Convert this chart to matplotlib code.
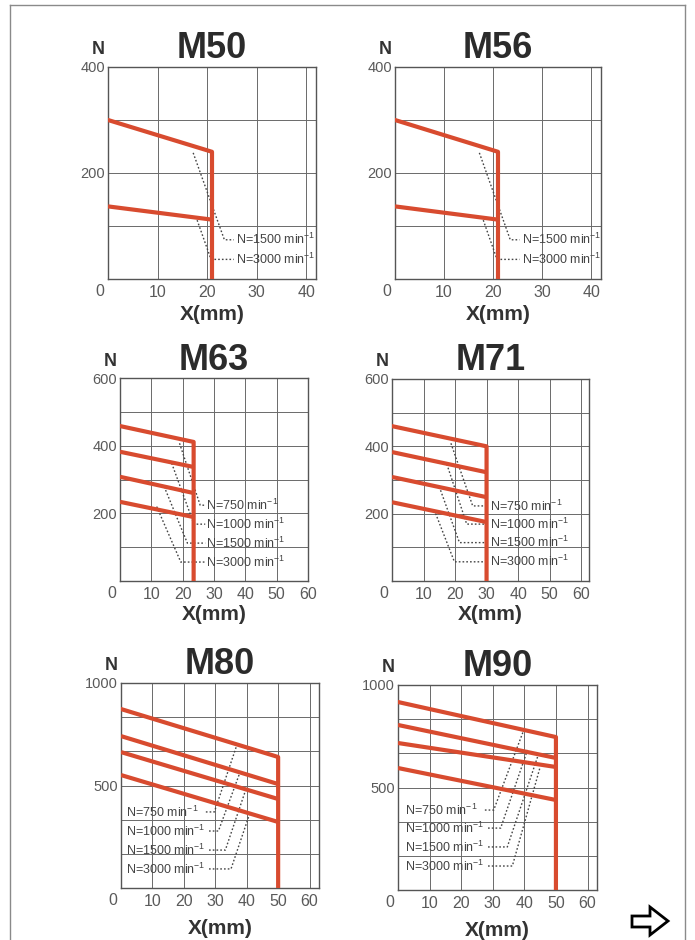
import numpy as np
import matplotlib
matplotlib.use("Agg")
import matplotlib.pyplot as plt
from matplotlib.lines import Line2D
from matplotlib.patches import Polygon
from matplotlib.transforms import IdentityTransform

# -----------------------------
# Data
# -----------------------------
titles = ["M50", "M56", "M63", "M71", "M80", "M90"]
x_max = [42, 42, 60, 62.5, 63, 63]
y_max = [400, 400, 600, 600, 1000, 1000]
y_divisions = [4, 4, 6, 6, 6, 6]
y_labelled = [[200, 400], [200, 400], [200, 400, 600], [200, 400, 600],
              [500, 1000], [500, 1000]]
x_ticks_small = [0, 10, 20, 30, 40]
x_ticks_large = [0, 10, 20, 30, 40, 50, 60]

# stroke limit (mm) where every curve drops to zero
stroke = [21, 21, 23.5, 30, 50, 50]

# force at X=0 and at the stroke limit, one value per speed
force_start = [[300, 137], [300, 137], [458, 382, 308, 234],
               [460, 383, 309, 234], [873, 741, 663, 551], [917, 805, 717, 595]]
force_end = [[240, 112], [240, 112], [411, 337, 260, 189],
             [400, 323, 249, 175], [639, 507, 434, 322], [746, 644, 600, 439]]

speeds_2 = ["1500", "3000"]
speeds_4 = ["750", "1000", "1500", "3000"]

# label anchors (data coords) and dotted leader polylines
label_x = [25.8, 25.8, 27.6, 31.0, 1.6, 2.2]
label_y = [[74, 37], [74, 37], [224, 168, 112, 56], [223, 169, 114, 57],
           [371, 278, 185, 93], [390, 302, 210, 117]]
leader_x = [
    [[17.2, 23.5, 25.4], [18.0, 20.8, 25.4]],
    [[17.2, 23.5, 25.4], [18.0, 20.8, 25.4]],
    [[19.0, 25.6, 27.2], [16.5, 23.6, 27.2], [14.1, 21.5, 27.2], [11.7, 19.4, 27.2]],
    [[18.7, 25.6, 30.5], [17.4, 23.7, 30.5], [15.0, 21.4, 30.5], [13.4, 19.8, 30.5]],
    [[27.0, 29.7, 36.7], [28.0, 31.0, 38.0], [28.0, 33.2, 39.6], [28.0, 35.0, 41.0]],
    [[27.5, 30.3, 39.8], [28.5, 32.5, 41.0], [28.5, 34.6, 44.2], [28.5, 36.2, 45.0]],
]
leader_y = [
    [[238, 74, 74], [111, 37, 37]],
    [[238, 74, 74], [111, 37, 37]],
    [[407, 224, 224], [348, 168, 168], [279, 112, 112], [220, 56, 56]],
    [[409, 223, 223], [347, 169, 169], [280, 114, 114], [211, 57, 57]],
    [[371, 371, 690], [278, 278, 570], [185, 185, 475], [93, 93, 365]],
    [[390, 390, 780], [302, 302, 683], [210, 210, 650], [117, 117, 600]],
]

# axes boxes in page pixels: left, top, right, bottom
boxes = [(108, 67, 316, 279), (395, 67, 601, 279),
         (120, 378, 308, 581), (392, 379, 589, 581),
         (121, 683, 319, 888), (398, 685, 597, 890)]
xlabel_gap = [35, 35, 34, 34, 40, 40]

# -----------------------------
# Style
# -----------------------------
W, H = 695, 940
plt.rcParams['font.family'] = ['Liberation Sans', 'DejaVu Sans']
plt.rcParams['mathtext.fontset'] = 'custom'
plt.rcParams['mathtext.rm'] = 'Liberation Sans'

RED = '#d84b2f'
GRID = '#6a6a6a'
TXT = '#5a5a5a'
PX = 0.72  # points per pixel at dpi 100

fig = plt.figure(figsize=(W / 100, H / 100), dpi=100)
fig.patch.set_facecolor('white')

for i, title in enumerate(titles):
    l, t, r, b = boxes[i]
    ax = fig.add_axes([l / W, 1 - b / H, (r - l) / W, (b - t) / H])
    ax.set_xlim(0, x_max[i])
    ax.set_ylim(0, y_max[i])

    xt = x_ticks_small if i < 2 else x_ticks_large
    ax.set_xticks(xt)
    ax.set_xticklabels([''] + [str(v) for v in xt[1:]])
    yt = np.linspace(0, y_max[i], y_divisions[i] + 1)
    ax.set_yticks(yt)
    ax.set_yticklabels([str(int(round(v))) if int(round(v)) in y_labelled[i] else ''
                        for v in yt])
    ax.tick_params(length=0, colors=TXT)
    ax.tick_params(axis='x', pad=4.5, labelsize=11.5)
    ax.tick_params(axis='y', pad=2, labelsize=10.5)
    ax.grid(True, color=GRID, lw=0.7)
    for s in ax.spines.values():
        s.set_color('#555555')
        s.set_linewidth(1.0)

    # zero tick sits a little left of the axis
    ax.annotate('0', xy=(0, 0), xycoords=('data', 'axes fraction'),
                xytext=(-8 * PX, -12.5 * PX), textcoords='offset points',
                ha='center', va='center', fontsize=11.5, color=TXT)

    # curves
    xv = stroke[i]
    for k in range(len(force_start[i])):
        if k == 0:
            ax.plot([0, xv, xv], [force_start[i][k], force_end[i][k], 0],
                    color=RED, lw=3, solid_joinstyle='round', zorder=3)
        else:
            ax.plot([0, xv], [force_start[i][k], force_end[i][k]],
                    color=RED, lw=3, solid_capstyle='butt', zorder=3)

    # speed labels + leaders
    speeds = speeds_2 if len(force_start[i]) == 2 else speeds_4
    for k, sp in enumerate(speeds):
        ax.plot(leader_x[i][k], leader_y[i][k], color='#444444', lw=1.0,
                ls=(0, (1.2, 1.5)), zorder=2)
        ax.text(label_x[i], label_y[i][k], f"N={sp} min$^{{-1}}$",
                fontsize=9, color='#444444', ha='left', va='center', zorder=4)

    ax.annotate(title, xy=(0.5, 1), xycoords='axes fraction',
                xytext=(0, 18 * PX), textcoords='offset points',
                ha='center', va='center', fontsize=26, fontweight='bold',
                color='#2b2b2b')
    ax.annotate('N', xy=(0, 1), xycoords='axes fraction',
                xytext=(-10 * PX, 17 * PX), textcoords='offset points',
                ha='center', va='center', fontsize=13, fontweight='bold',
                color='#333333')
    ax.annotate('X(mm)', xy=(0.5, 0), xycoords='axes fraction',
                xytext=(0, -xlabel_gap[i] * PX), textcoords='offset points',
                ha='center', va='center', fontsize=15, fontweight='bold',
                color='#333333')

# -----------------------------
# Page frame and "next page" arrow
# -----------------------------
frame = dict(transform=IdentityTransform(), color='#8a8a8a', lw=1)
fig.add_artist(Line2D([10, 685], [H - 5, H - 5], **frame))
fig.add_artist(Line2D([10, 10], [0, H - 5], **frame))
fig.add_artist(Line2D([685, 685], [0, H - 5], **frame))

arrow = [(632, 916), (650, 916), (650, 907), (668, 921),
         (650, 935), (650, 927), (632, 927)]
fig.add_artist(Polygon([(x, H - y) for x, y in arrow], closed=True,
                       transform=IdentityTransform(), facecolor='white',
                       edgecolor='black', lw=2))

fig.savefig('out.png', dpi=100, facecolor='white')
